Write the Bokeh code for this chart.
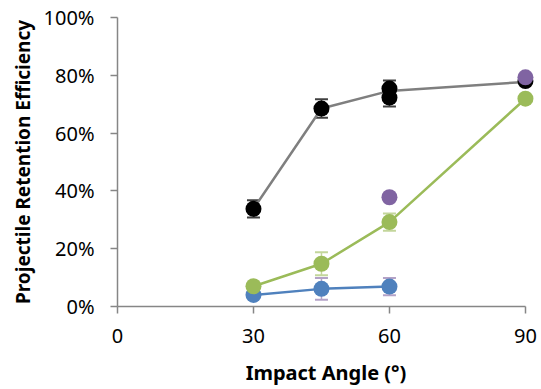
from bokeh.plotting import figure
from bokeh.models import Range1d, FixedTicker, NumeralTickFormatter, Whisker, ColumnDataSource, TeeHead
from bokeh.embed import file_html
from bokeh.resources import INLINE

# Data (fraction retained)
black_x = [30, 45, 60, 60, 90]
black_y = [0.338, 0.685, 0.754, 0.723, 0.780]
black_err = [0.030, 0.032, 0.028, 0.031, 0.010]
black_line_x = [30, 45, 60, 90]
black_line_y = [0.338, 0.685, 0.746, 0.777]

green_x = [30, 45, 60, 90]
green_y = [0.070, 0.148, 0.292, 0.719]
green_err = [0.010, 0.040, 0.030, 0.010]

blue_x = [30, 45, 60]
blue_y = [0.040, 0.061, 0.069]
blue_err = [0.010, 0.038, 0.030]

purple_x = [60, 90]
purple_y = [0.378, 0.793]

x_ticks = [0, 30, 60, 90]
y_ticks = [0, 0.2, 0.4, 0.6, 0.8, 1.0]

FONT = "Noto Sans"
AX = "#868686"

p = figure(width=541, height=389, output_backend="svg", toolbar_location=None,
           x_range=Range1d(0, 92), y_range=Range1d(0, 1.0),
           min_border_left=117, min_border_right=7, min_border_top=17, min_border_bottom=83)
p.outline_line_color = None
p.grid.visible = False

for ax in (p.xaxis[0], p.yaxis[0]):
    ax.axis_line_color = AX
    ax.axis_line_width = 1.5
    ax.major_tick_line_color = AX
    ax.major_tick_line_width = 1.5
    ax.major_tick_in = 0
    ax.major_tick_out = 7
    ax.minor_tick_line_color = None
    ax.major_label_text_font = FONT
    ax.major_label_text_font_size = "20px"
    ax.major_label_text_color = "#000000"
    ax.axis_label_text_font = FONT
    ax.axis_label_text_font_style = "bold"
    ax.axis_label_text_color = "#000000"

p.xaxis.bounds = (0, 90)
p.xaxis.ticker = FixedTicker(ticks=x_ticks)
p.xaxis.axis_label = "Impact Angle (°)"
p.xaxis.axis_label_text_font_size = "20px"
p.xaxis.major_label_standoff = 15
p.xaxis.axis_label_standoff = 13

p.yaxis.bounds = (0, 1.0)
p.yaxis.ticker = FixedTicker(ticks=y_ticks)
p.yaxis.formatter = NumeralTickFormatter(format="0%")
p.yaxis.axis_label = "Projectile Retention Efficiency"
p.yaxis.axis_label_text_font_size = "19px"
p.yaxis.major_label_standoff = 16
p.yaxis.axis_label_standoff = 5

def errbars(xs, ys, errs, color):
    src = ColumnDataSource(dict(x=xs, lo=[y - e for y, e in zip(ys, errs)],
                                hi=[y + e for y, e in zip(ys, errs)]))
    w = Whisker(source=src, base="x", lower="lo", upper="hi", dimension="height",
                line_color=color, line_width=1.5,
                upper_head=TeeHead(size=13, line_color=color, line_width=2),
                lower_head=TeeHead(size=13, line_color=color, line_width=2))
    p.add_layout(w)

# black series
p.line(black_line_x, black_line_y, line_color="#7F7F7F", line_width=2.5)
errbars(black_x, black_y, black_err, "#404040")
p.scatter(black_x, black_y, size=16, fill_color="#000000", line_color=None)

# blue series
p.line(blue_x, blue_y, line_color="#4F81BD", line_width=2.5)
errbars(blue_x, blue_y, blue_err, "#B3A2C7")
p.scatter(blue_x, blue_y, size=16, fill_color="#4F81BD", line_color=None)

# green series
p.line(green_x, green_y, line_color="#9BBB59", line_width=2.5)
errbars(green_x, green_y, green_err, "#C3D69B")
p.scatter(green_x, green_y, size=16, fill_color="#9BBB59", line_color=None)

# purple series
p.scatter(purple_x, purple_y, size=16, fill_color="#8064A2", line_color=None)

open("out.html", "w").write(file_html(p, INLINE))
